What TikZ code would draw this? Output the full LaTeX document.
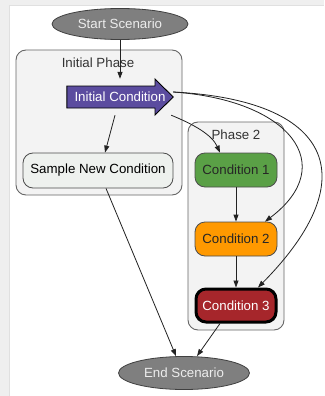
\documentclass[tikz,border=0pt]{standalone}
\usepackage{fontspec}
\setmainfont{Liberation Sans}
\usetikzlibrary{arrows.meta,shapes.geometric,calc}
\definecolor{bgstrip}{HTML}{EFEFEF}
\definecolor{clusterfill}{HTML}{F3F3F3}
\definecolor{clusterline}{HTML}{666666}
\definecolor{ellfill}{HTML}{7F7F7F}
\definecolor{elltext}{HTML}{EDEDED}
\definecolor{icfill}{HTML}{5B4C9F}
\definecolor{snfill}{HTML}{EEF1EE}
\definecolor{cagreen}{HTML}{5AA046}
\definecolor{caorange}{HTML}{FF9900}
\definecolor{cared}{HTML}{A6262B}
\definecolor{edgecol}{HTML}{222222}
\tikzset{
  every node/.style={font=\fontsize{13.3}{16}\selectfont},
  cluster/.style={draw=clusterline, fill=clusterfill, line width=0.9pt, rounded corners=10pt},
  clabel/.style={text=black!80},
  ellnode/.style={ellipse, draw=black!75, fill=ellfill, text=elltext, line width=0.8pt, inner sep=0pt},
  condbox/.style={rectangle, rounded corners=10pt, draw=black!70, line width=0.8pt, minimum width=82pt, minimum height=34pt, inner sep=0pt},
  conn/.style={draw=edgecol, line width=0.8pt, -{Triangle[length=7pt,width=5pt]}},
}
\begin{document}
\begin{tikzpicture}[x=1pt,y=-1pt]
\useasboundingbox (0,0) rectangle (324,396);
\fill[bgstrip] (0,0) rectangle (324,396);
\fill[white] (9,5) rectangle (324,396);
\draw[black!12, line width=0.8pt] (9,396) -- (9,5) -- (324,5);
% clusters
\draw[cluster] (16,50) rectangle (182,195);
\node[clabel] (lbl1) at (98,63) {Initial Phase};
\draw[cluster] (188,122) rectangle (284,330);
\node[clabel] (lbl2) at (236,135) {Phase 2};
% nodes
\node[ellnode, minimum width=136pt, minimum height=31pt] (start) at (120,24) {Start Scenario};
\node[ellnode, minimum width=131pt, minimum height=33pt] (end) at (184,373) {End Scenario};
\node[minimum width=106pt, minimum height=36pt, inner sep=0pt] (icbox) at (120,97) {};
\draw[fill=icfill, draw=black, line width=0.9pt, line join=miter]
  (icbox.west |- 0,86) -- (155,86) -- (155,79) -- (icbox.east) -- (155,115) -- (155,108) -- (icbox.west |- 0,108) -- cycle;
\node[text=white, inner sep=0pt] (ic) at (120,97) {Initial Condition};
\node[condbox, fill=snfill, minimum width=150pt, minimum height=35pt] (sn) at (98,170.5) {Sample New Condition};
\node[condbox, fill=cagreen, text=black!85] (c1) at (236,170) {Condition 1};
\node[condbox, fill=caorange, text=black!85] (c2) at (236,239) {Condition 2};
\node[condbox, fill=cared, text=white, draw=black, line width=3pt, minimum width=80pt, minimum height=33pt] (c3) at (236,305.5) {Condition 3};
% edges
\draw[conn] (start.south) -- (icbox.north);
\draw[conn] ([xshift=-5pt]icbox.south) -- ([xshift=7pt]sn.north);
\draw[conn] ([xshift=-2pt]icbox.south east) .. controls (195,125) and (212,135) .. ([xshift=-16pt]c1.north);
\draw[conn] ([yshift=5pt]icbox.east) .. controls (290,100) and (340,165) .. ([xshift=29pt]c2.north);
\draw[conn] ([yshift=5pt]icbox.east) .. controls (330,100) and (368,176) .. ([xshift=22pt]c3.north);
\draw[conn] (c1) -- (c2);
\draw[conn] (c2) -- (c3);
\draw[conn] ([xshift=8pt]sn.south) -- ([xshift=-8pt]end.north);
\draw[conn] ([xshift=-16pt]c3.south) -- ([xshift=13pt]end.north);
\end{tikzpicture}
\end{document}
